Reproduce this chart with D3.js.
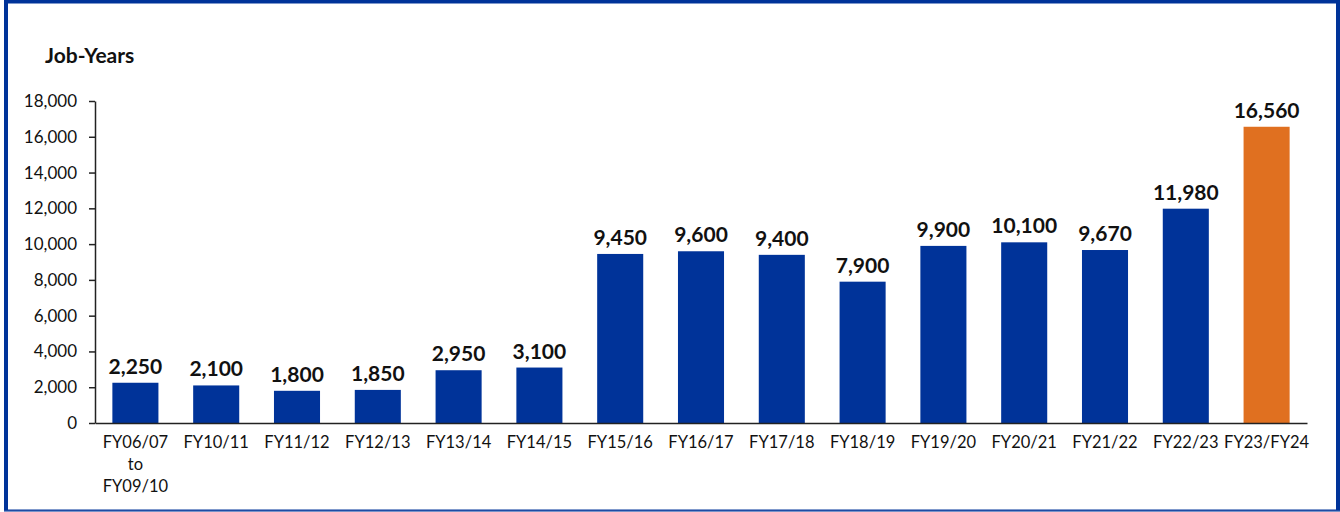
<!DOCTYPE html>
<html lang="en">
<head>
<meta charset="UTF-8">
<title>Job-Years</title>
<style>
  body { margin: 0; background: #fff; }
  svg { display: block; }
</style>
</head>
<body>
<script src="https://d3js.org/d3.v7.min.js"></script>
<div id="svg"></div>
<script>
  // data
  const years = ["FY06/07|to|FY09/10", "FY10/11", "FY11/12", "FY12/13", "FY13/14", "FY14/15", "FY15/16",
    "FY16/17", "FY17/18", "FY18/19", "FY19/20", "FY20/21", "FY21/22", "FY22/23", "FY23/FY24"];
  const jobYears = [2250, 2100, 1800, 1850, 2950, 3100, 9450, 9600, 9400, 7900, 9900, 10100, 9670, 11980, 16560];
  const yTicks = [0, 2000, 4000, 6000, 8000, 10000, 12000, 14000, 16000, 18000];

  const width = 1340, height = 512;
  const padding = { top: 101, left: 95, right: 33, bottom: 89 };
  const font = "'Lato', 'DejaVu Sans', sans-serif";

  const svg = d3.select("#svg").append("svg").attr("width", width).attr("height", height);

  // frame
  svg.append("rect").attr("x", 6).attr("y", 1.5).attr("width", width - 8).attr("height", height - 2)
    .attr("fill", "none").attr("stroke", "#003399").attr("stroke-width", 4);
  svg.append("line").attr("x1", 4).attr("x2", width).attr("y1", height - 0.5).attr("y2", height - 0.5)
    .attr("stroke", "#7a93c8").attr("stroke-width", 1.5);

  const xScale = d3.scaleBand().domain(years).range([padding.left, width - padding.right]).paddingInner(0.43).paddingOuter(0.215);
  const yScale = d3.scaleLinear().domain([0, 18000]).range([height - padding.bottom, padding.top]);

  // y axis
  const gy = svg.append("g").attr("transform", `translate(${padding.left},0)`)
    .call(d3.axisLeft(yScale).tickValues(yTicks).tickSize(6).tickSizeOuter(0).tickFormat(d3.format(",")));
  gy.select(".domain").attr("stroke", "#222").attr("stroke-width", 1.5);
  gy.selectAll(".tick line").attr("stroke", "#222").attr("stroke-width", 1.5);
  gy.selectAll(".tick text").attr("font-family", font).attr("font-size", 17).attr("fill", "#111").attr("x", -18);

  // bars
  svg.append("g").selectAll("rect").data(jobYears).enter().append("rect")
    .attr("x", (d, i) => xScale(years[i]))
    .attr("y", d => yScale(d))
    .attr("width", xScale.bandwidth())
    .attr("height", d => yScale(0) - yScale(d))
    .attr("fill", (d, i) => i === years.length - 1 ? "#e07020" : "#003399");

  // x axis
  const gx = svg.append("g").attr("transform", `translate(0,${yScale(0)})`)
    .call(d3.axisBottom(xScale).tickSize(0).tickSizeOuter(0).tickFormat(""));
  gx.select(".domain").attr("stroke", "#222").attr("stroke-width", 1.5);
  gx.selectAll(".tick").each(function(d) {
    const lines = d.split("|");
    const t = d3.select(this).append("text").attr("font-family", font).attr("font-size", 16.5)
      .attr("fill", "#111").attr("text-anchor", "middle");
    lines.forEach((s, k) => t.append("tspan").attr("x", 0).attr("y", 25 + k * 22).text(s));
  });

  // value labels
  svg.append("g").selectAll("text").data(jobYears).enter().append("text")
    .attr("x", (d, i) => xScale(years[i]) + xScale.bandwidth() / 2)
    .attr("y", d => yScale(d) - 9)
    .attr("text-anchor", "middle").attr("font-family", font).attr("font-weight", "bold")
    .attr("font-size", 21).attr("fill", "#111")
    .text(d => d3.format(",")(d));

  // title
  svg.append("text").attr("x", 45).attr("y", 63).attr("font-family", font).attr("font-weight", "bold")
    .attr("font-size", 21).attr("fill", "#111").text("Job-Years");
</script>
</body>
</html>
